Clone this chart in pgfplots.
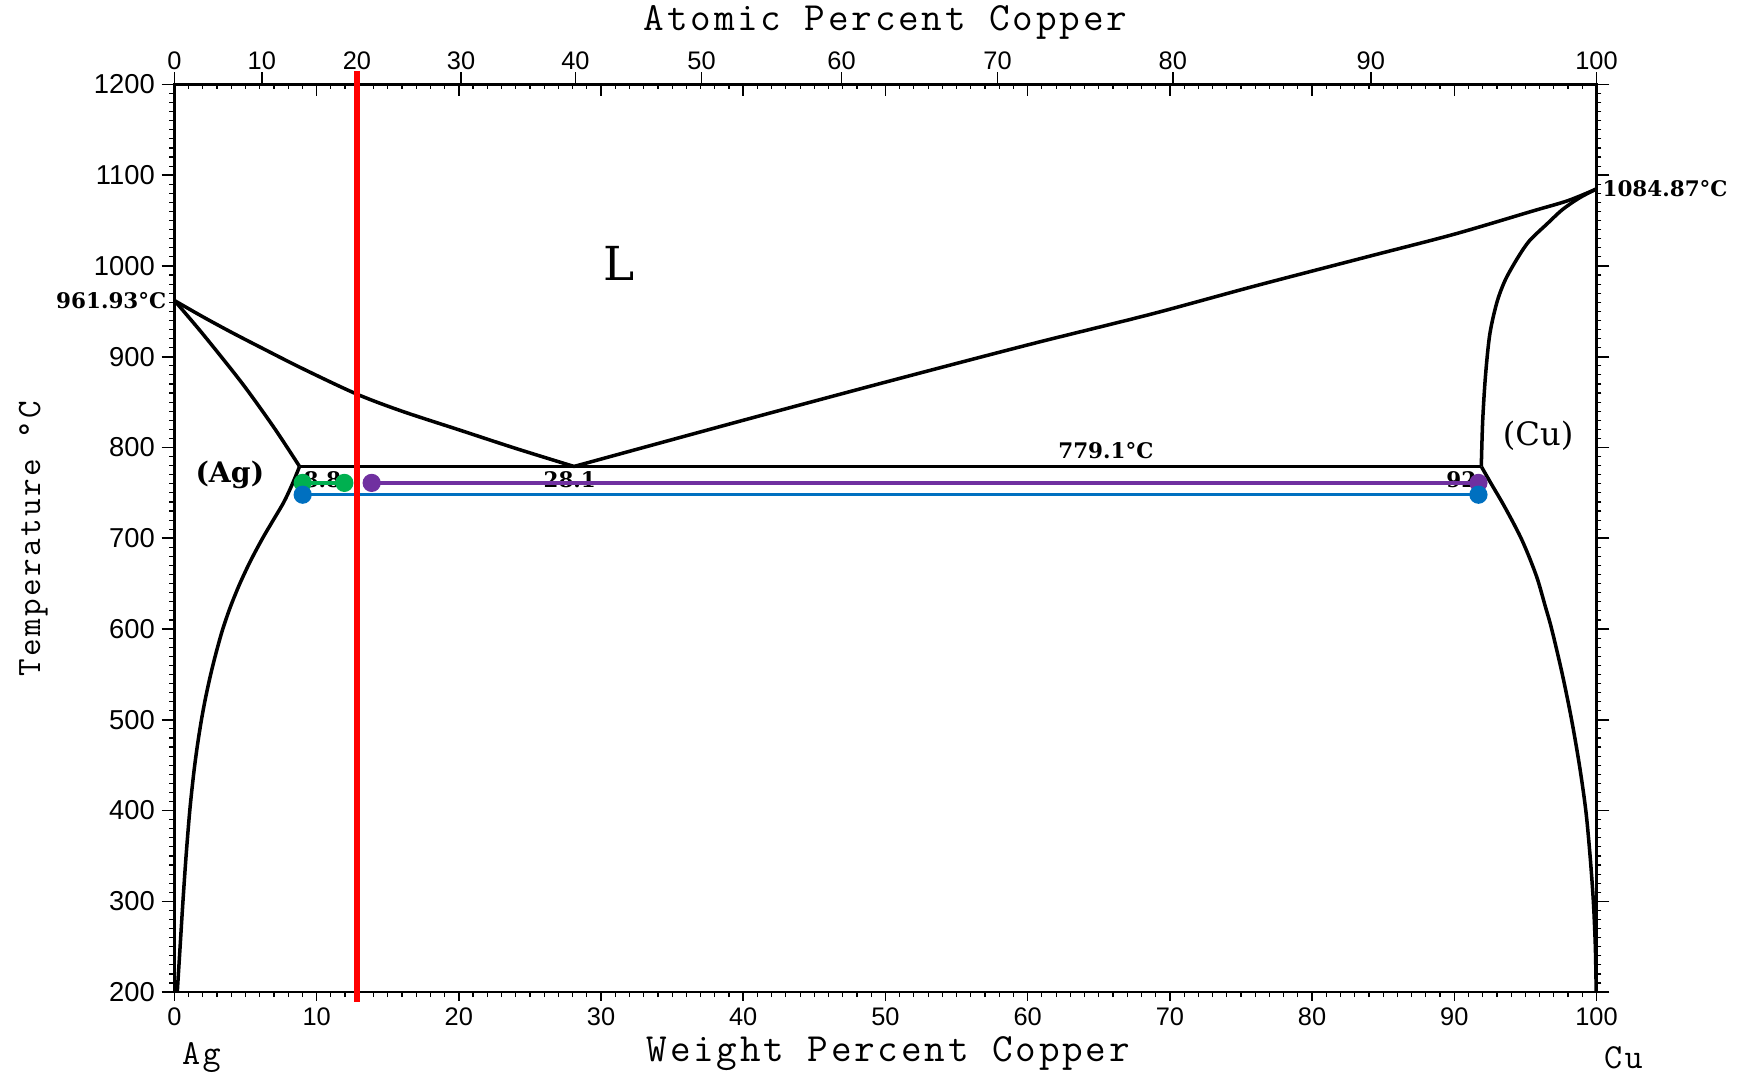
\documentclass[border=0pt]{standalone}
\usepackage{pgfplots}
\pgfplotsset{compat=1.18}
\usepackage{fontspec}
\setmainfont{DejaVu Serif}
\newfontfamily\tickfont{Liberation Sans}
\newfontfamily\titlefont[LetterSpace=7]{Latin Modern Mono}
\definecolor{cgreen}{RGB}{0,176,80}
\definecolor{cpurple}{RGB}{112,48,160}
\definecolor{cblue}{RGB}{0,112,192}

\pgfplotsset{
    pd frame/.style={
            at={(0,0)}, anchor=south west,
            scale only axis, width=25.6cm, height=16.34cm,
            xmin=0, xmax=100, ymin=200, ymax=1200,
            clip=false,
            axis line style={line width=1.2pt},
            every tick/.style={black, line width=0.8pt},
            every minor tick/.style={black, line width=0.6pt},
            xticklabel style={font=\tickfont\fontsize{13}{15}\selectfont},
            yticklabel style={font=\tickfont\fontsize{14}{16}\selectfont},
            /pgf/number format/assume math mode=true,
            /pgf/number format/1000 sep={},
        },
    pd curve/.style={black, line width=1.8pt, smooth, no markers},
}
\newcommand{\lbl}{\bfseries\fontsize{11}{13}\selectfont}
\newcommand{\ttl}{\titlefont\fontsize{20.5}{23}\selectfont}

\begin{document}
\begin{tikzpicture}
    \useasboundingbox (-3.14,-1.5) rectangle (28.22,17.86);
    % frame, temperature ticks and the phase boundaries
    \begin{axis}[pd frame, xtick=\empty,
            ytick={200,300,...,1200}, minor y tick num=9,
            ytick pos=both, yticklabel pos=left, tick align=outside,
            major tick length=2.3mm, minor tick length=0.9mm]
        % liquidus, Ag side
        \addplot[pd curve] coordinates {(0,961.93) (2,944) (4,927) (6.1,910) (9,887) (12.8,859) (16,840) (20.1,819) (24,799) (28.1,779.1)};
        % liquidus, Cu side
        \addplot[pd curve] coordinates {(28.1,779.1) (40,830) (50,872) (60,913) (68.7,947) (76,978) (84.1,1011) (90,1035) (95.4,1060) (98,1072) (100,1084.87)};
        % solidus (Ag)
        \addplot[pd curve] coordinates {(0,961.93) (2,925) (4.75,871) (7,822) (8.8,779.1)};
        % solvus (Ag)
        \addplot[pd curve] coordinates {(8.8,779.1) (8.3,760) (7.7,740) (6.95,720) (6.2,700) (5.35,675) (4.6,650) (3.95,625) (3.4,600) (2.95,575) (2.55,550) (2.2,525) (1.9,500) (1.6,470) (1.35,440) (1.08,400) (0.82,350) (0.6,300) (0.4,250) (0.2,200)};
        % solidus (Cu)
        \addplot[pd curve] coordinates {(100,1084.87) (98.8,1075) (97.6,1062) (96.5,1046) (95.3,1028) (94.5,1010) (93.6,985) (93.0,960) (92.5,925) (92.2,880) (92.0,830) (91.9,779.1)};
        % solvus (Cu)
        \addplot[pd curve] coordinates {(91.9,779.1) (92.6,760) (93.35,740) (94.05,720) (94.7,700) (95.25,680) (95.85,655) (96.4,625) (96.85,600) (97.6,550) (98.25,500) (98.8,450) (99.25,400) (99.55,350) (99.78,300) (99.92,250) (99.98,200)};
        % eutectic
        \addplot[black, line width=2pt] coordinates {(8.8,779.1) (91.9,779.1)};

        \node[font=\lbl] at (axis cs:65.5,797) {779.1°C};
        \node[font=\lbl] at (axis cs:27.8,764) {28.1};
        \node[font=\lbl] at (axis cs:10.4,764) {8.8};
        \node[font=\lbl] at (axis cs:90.5,764) {92};
        \node[font=\lbl, anchor=east, inner sep=0pt] at (axis cs:-0.55,961.93) {961.93°C};
        \node[font=\lbl, anchor=west, inner sep=0pt] at (axis cs:100.4,1084.87) {1084.87°C};
        \node[font=\bfseries\fontsize{14.5}{17}\selectfont] at (axis cs:3.9,770) {(Ag)};
        \node[font=\fontsize{16.5}{19}\selectfont] at (axis cs:95.9,813) {(Cu)};
        \node[font=\fontsize{24}{28}\selectfont] at (axis cs:31.25,1003) {L};

        \node[font=\ttl] at (axis cs:50,1268.5) {Atomic Percent Copper};
        \node[font=\ttl] at (axis cs:50.2,132.7) {Weight Percent Copper};
        \node[font=\titlefont\fontsize{18}{21}\selectfont] at (axis cs:1.9,128) {Ag};
        \node[font=\titlefont\fontsize{18}{21}\selectfont] at (axis cs:101.9,128) {Cu};
        \node[font=\titlefont\fontsize{17.5}{20}\selectfont, rotate=90] at (axis cs:-9.92,699.4) {Temperature °C};
    \end{axis}
    % weight percent ticks, bottom
    \begin{axis}[pd frame, axis x line*=bottom, axis y line=none,
            xtick={0,10,...,100}, minor x tick num=9, tick align=outside,
            major tick length=1.6mm, minor tick length=0.9mm]
    \end{axis}
    % weight percent ticks mirrored on top, pointing in
    \begin{axis}[pd frame, axis x line*=top, axis y line=none,
            xtick={0,10,...,100}, minor x tick num=9, tick align=inside,
            xticklabels={}, major tick length=2.1mm, minor tick length=0.9mm]
    \end{axis}
    % atomic percent ticks on top, and the overlays
    \begin{axis}[pd frame, axis x line*=top, axis y line=none,
            xtick={0,6.1435,12.837,20.158,28.199,37.072,46.912,57.887,70.207,84.132,100},
            xticklabels={0,10,20,30,40,50,60,70,80,90,100},
            xticklabel style={yshift=-0.8mm},
            tick align=outside, major tick length=2.2mm]
        \addplot[cgreen, line width=1.7pt, mark=*, mark size=3.8pt] coordinates {(9.02,761) (11.95,761)};
        \addplot[cpurple, line width=1.7pt, mark=*, mark size=3.8pt] coordinates {(13.87,761) (91.7,761)};
        \addplot[cblue, line width=1.7pt, mark=*, mark size=3.8pt] coordinates {(9.02,748) (91.7,748)};
        \addplot[red, line width=2.8pt] coordinates {(12.84,1215) (12.84,189)};
    \end{axis}
\end{tikzpicture}
\end{document}
